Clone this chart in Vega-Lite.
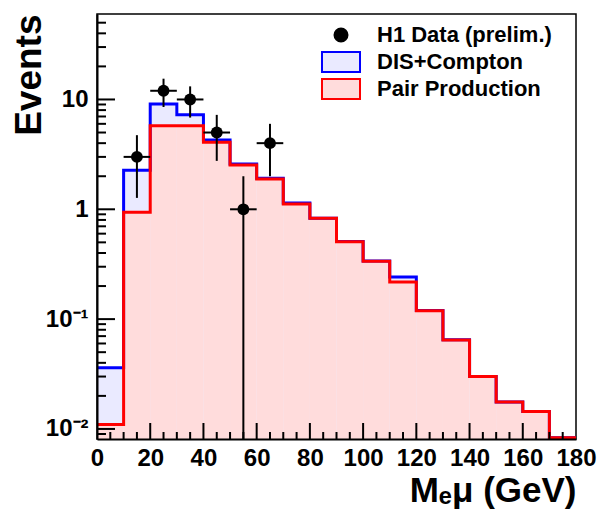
{
  "$schema": "https://vega.github.io/schema/vega-lite/v6.json",
  "width": 479,
  "height": 425,
  "autosize": "none",
  "padding": {"left": 97, "top": 14, "right": 23, "bottom": 84},
  "background": "white",
  "config": {"view": {"stroke": "black", "strokeWidth": 1.5}, "font": "Liberation Sans"},
  "datasets": {
    "hist": [
      {"lo": 0, "hi": 10, "dis": 0.036, "pair": 0.011},
      {"lo": 10, "hi": 20, "dis": 2.27, "pair": 0.94},
      {"lo": 20, "hi": 30, "dis": 9.1, "pair": 5.77},
      {"lo": 30, "hi": 40, "dis": 7.27, "pair": 5.77},
      {"lo": 40, "hi": 50, "dis": 4.28, "pair": 4.07},
      {"lo": 50, "hi": 60, "dis": 2.58, "pair": 2.53},
      {"lo": 60, "hi": 70, "dis": 1.92, "pair": 1.89},
      {"lo": 70, "hi": 80, "dis": 1.14, "pair": 1.12},
      {"lo": 80, "hi": 90, "dis": 0.83, "pair": 0.828},
      {"lo": 90, "hi": 100, "dis": 0.51, "pair": 0.507},
      {"lo": 100, "hi": 110, "dis": 0.338, "pair": 0.336},
      {"lo": 110, "hi": 120, "dis": 0.242, "pair": 0.218},
      {"lo": 120, "hi": 130, "dis": 0.12, "pair": 0.119},
      {"lo": 130, "hi": 140, "dis": 0.065, "pair": 0.0645},
      {"lo": 140, "hi": 150, "dis": 0.03, "pair": 0.03},
      {"lo": 150, "hi": 160, "dis": 0.0176, "pair": 0.0176},
      {"lo": 160, "hi": 170, "dis": 0.0144, "pair": 0.0144},
      {"lo": 170, "hi": 180, "dis": 0.0083, "pair": 0.0083}
    ],
    "h1": [
      {"x": 15, "lo": 10, "hi": 20, "n": 3, "elo": 1.27, "ehi": 4.73},
      {"x": 25, "lo": 20, "hi": 30, "n": 12, "elo": 8.54, "ehi": 15.46},
      {"x": 35, "lo": 30, "hi": 40, "n": 10, "elo": 6.84, "ehi": 13.16},
      {"x": 45, "lo": 40, "hi": 50, "n": 5, "elo": 2.76, "ehi": 7.24},
      {"x": 55, "lo": 50, "hi": 60, "n": 1, "elo": 0.001, "ehi": 2},
      {"x": 65, "lo": 60, "hi": 70, "n": 4, "elo": 2, "ehi": 6}
    ]
  },
  "layer": [
    {
      "data": {"name": "hist"},
      "mark": {"type": "rect"},
      "encoding": {
        "x": {"field": "lo", "type": "quantitative", "scale": {"domain": [0, 180], "nice": false, "zero": false},
          "axis": {"zindex": 1, "orient": "bottom", "values": [0, 20, 40, 60, 80, 100, 120, 140, 160, 180], "ticks": false, "tickSize": 0, "domainWidth": 2, "domainColor": "black", "labelFont": "Liberation Sans", "labelFontWeight": "bold", "labelFontSize": 24, "labelColor": "black", "labelPadding": 7, "labelFlush": false, "grid": false, "title": "Mₑμ (GeV)", "titleFont": "Liberation Sans", "titleFontWeight": "bold", "titleFontSize": 35, "titleColor": "black", "titleAnchor": "end", "titlePadding": 3}},
        "x2": {"field": "hi"},
        "y": {"field": "dis", "type": "quantitative", "scale": {"type": "log", "domain": [0.0081, 60], "nice": false, "clamp": true},
          "axis": {"zindex": 1, "orient": "left", "values": [0.01, 0.1, 1, 10], "labelExpr": "datum.value >= 5 ? '10' : datum.value >= 0.5 ? '1' : datum.value >= 0.05 ? '10⁻¹' : '10⁻²'", "ticks": false, "tickSize": 0, "domainWidth": 2, "domainColor": "black", "labelFont": "Liberation Sans", "labelFontWeight": "bold", "labelFontSize": 24, "labelColor": "black", "labelPadding": 9, "grid": false, "title": "Events", "titleFont": "Liberation Sans", "titleFontWeight": "bold", "titleFontSize": 37, "titleColor": "black", "titleAnchor": "end", "titlePadding": -3}},
        "y2": {"datum": 0.0081},
        "fill": {"datum": "DIS+Compton", "type": "nominal",
          "scale": {"domain": ["H1 Data (prelim.)", "DIS+Compton", "Pair Production"], "range": ["#000000", "#eaeaff", "#ffdcdc"]},
          "legend": {"title": null, "orient": "none", "legendX": 233, "legendY": 10, "symbolSize": 400, "labelOffset": 25, "rowPadding": -1, "gridAlign": "all", "labelLimit": 400, "labelFont": "Liberation Sans", "labelFontWeight": "bold", "labelFontSize": 22, "labelColor": "black", "symbolOpacity": 1,
            "encode": {"symbols": {"update": {
              "shape": {"signal": "datum.value === 'H1 Data (prelim.)' ? 'M-0.65,0A0.65,0.65,0,1,0,0.65,0A0.65,0.65,0,1,0,-0.65,0Z' : 'M-1.9,-1H1.9V1H-1.9Z'"},
              "stroke": {"signal": "datum.value === 'H1 Data (prelim.)' ? '#000000' : datum.value === 'DIS+Compton' ? '#0000ff' : '#ff0000'"},
              "strokeWidth": {"value": 2}}}}}}
      }
    },
    {
      "data": {"name": "hist"},
      "mark": {"type": "rect"},
      "encoding": {
        "x": {"field": "lo", "type": "quantitative", "axis": null},
        "x2": {"field": "hi"},
        "y": {"field": "pair", "type": "quantitative", "axis": null},
        "y2": {"datum": 0.0081},
        "fill": {"datum": "Pair Production", "type": "nominal"}
      }
    },
    {
      "data": {"name": "hist"},
      "transform": [{"fold": ["lo", "hi"], "as": ["edge", "xv"]}],
      "mark": {"type": "line", "color": "#0000ff", "strokeWidth": 3, "strokeJoin": "miter"},
      "encoding": {
        "x": {"field": "xv", "type": "quantitative", "axis": null},
        "y": {"field": "dis", "type": "quantitative", "axis": null},
        "order": [{"field": "lo", "type": "quantitative"}, {"field": "edge", "sort": "descending"}]
      }
    },
    {
      "data": {"name": "hist"},
      "transform": [{"fold": ["lo", "hi"], "as": ["edge", "xv"]}],
      "mark": {"type": "line", "color": "#ff0000", "strokeWidth": 3, "strokeJoin": "miter"},
      "encoding": {
        "x": {"field": "xv", "type": "quantitative", "axis": null},
        "y": {"field": "pair", "type": "quantitative", "axis": null},
        "order": [{"field": "lo", "type": "quantitative"}, {"field": "edge", "sort": "descending"}]
      }
    },
    {
      "data": {"name": "h1"},
      "mark": {"type": "rule", "color": "#000000", "strokeWidth": 2},
      "encoding": {
        "x": {"field": "x", "type": "quantitative", "axis": null},
        "y": {"field": "elo", "type": "quantitative", "axis": null},
        "y2": {"field": "ehi"}
      }
    },
    {
      "data": {"name": "h1"},
      "mark": {"type": "rule", "color": "#000000", "strokeWidth": 2},
      "encoding": {
        "x": {"field": "lo", "type": "quantitative", "axis": null},
        "x2": {"field": "hi"},
        "y": {"field": "n", "type": "quantitative", "axis": null}
      }
    },
    {
      "data": {"name": "h1"},
      "mark": {"type": "point", "filled": true, "color": "#000000", "opacity": 1, "size": 140},
      "encoding": {
        "x": {"field": "x", "type": "quantitative", "axis": null},
        "y": {"field": "n", "type": "quantitative", "axis": null}
      }
    },
    {
      "data": {"values": [{"v": 0.01}, {"v": 0.1}, {"v": 1}, {"v": 10}]},
      "mark": {"type": "tick", "orient": "horizontal", "color": "#000000", "opacity": 1, "size": 18, "thickness": 2},
      "encoding": {
        "x": {"datum": 3.38, "type": "quantitative", "axis": null},
        "y": {"field": "v", "type": "quantitative", "axis": null}
      }
    },
    {
      "data": {"values": [{"v": 0.009}, {"v": 0.02}, {"v": 0.03}, {"v": 0.04}, {"v": 0.05}, {"v": 0.06}, {"v": 0.07}, {"v": 0.08}, {"v": 0.09}, {"v": 0.2}, {"v": 0.3}, {"v": 0.4}, {"v": 0.5}, {"v": 0.6}, {"v": 0.7}, {"v": 0.8}, {"v": 0.9}, {"v": 2}, {"v": 3}, {"v": 4}, {"v": 5}, {"v": 6}, {"v": 7}, {"v": 8}, {"v": 9}, {"v": 20}, {"v": 30}, {"v": 40}, {"v": 50}]},
      "mark": {"type": "tick", "orient": "horizontal", "color": "#000000", "opacity": 1, "size": 9, "thickness": 2},
      "encoding": {
        "x": {"datum": 1.69, "type": "quantitative", "axis": null},
        "y": {"field": "v", "type": "quantitative", "axis": null}
      }
    },
    {
      "data": {"values": [{"v": 20}, {"v": 40}, {"v": 60}, {"v": 80}, {"v": 100}, {"v": 120}, {"v": 140}, {"v": 160}]},
      "mark": {"type": "tick", "orient": "vertical", "color": "#000000", "opacity": 1, "size": 16, "thickness": 2},
      "encoding": {
        "x": {"field": "v", "type": "quantitative", "axis": null},
        "y": {"datum": 0.00958, "type": "quantitative", "axis": null}
      }
    },
    {
      "data": {"values": [{"v": 5}, {"v": 10}, {"v": 15}, {"v": 25}, {"v": 30}, {"v": 35}, {"v": 45}, {"v": 50}, {"v": 55}, {"v": 65}, {"v": 70}, {"v": 75}, {"v": 85}, {"v": 90}, {"v": 95}, {"v": 105}, {"v": 110}, {"v": 115}, {"v": 125}, {"v": 130}, {"v": 135}, {"v": 145}, {"v": 150}, {"v": 155}, {"v": 165}, {"v": 170}, {"v": 175}]},
      "mark": {"type": "tick", "orient": "vertical", "color": "#000000", "opacity": 1, "size": 7, "thickness": 2},
      "encoding": {
        "x": {"field": "v", "type": "quantitative", "axis": null},
        "y": {"datum": 0.00872, "type": "quantitative", "axis": null}
      }
    }
  ],
  "resolve": {"axis": {"x": "independent", "y": "independent"}}
}
